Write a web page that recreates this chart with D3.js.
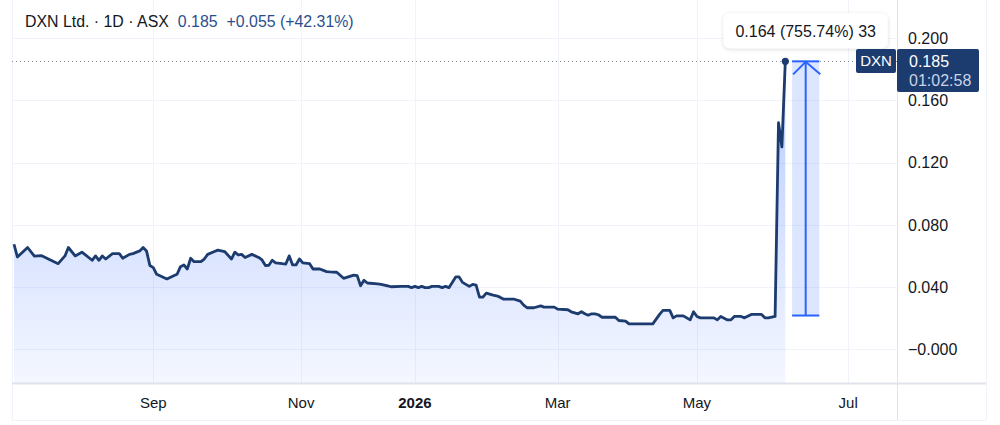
<!DOCTYPE html>
<html><head><meta charset="utf-8">
<script src="https://cdn.jsdelivr.net/npm/d3@7"></script>
<style>html,body{margin:0;padding:0;background:#fff;} svg{display:block;font-family:"Liberation Sans",Arial,sans-serif;}</style>
</head><body><svg id="c" width="1000" height="425"></svg>
<script>
// ---- data ----
const barIndex = [0,1,4,6,8,13,15,16,18,20,23,24,25,26,27,29,31,32,34,35,37,38,39,40,41,42,45,47,48,49,50,51,52,53,55,56,57,59,60,62,64,65,66,67,68,70,72,73,74,75,76,77,79,80,81,82,83,84,85,87,88,90,92,93,95,97,100,101,102,103,104,107,108,110,111,114,116,117,118,119,120,121,122,123,125,126,127,128,130,131,132,134,135,136,137,138,139,141,142,143,144,147,149,150,151,153,155,156,159,160,163,164,166,167,168,169,170,171,172,173,177,178,180,181,188,190,191,193,194,195,197,199,200,201,202,206,207,208,210,211,212,214,215,217,220,221,222,224,225,226,227];
const closeValues = [0.0675,0.0593,0.0654,0.0598,0.0602,0.0550,0.0600,0.0654,0.0600,0.0624,0.0572,0.0600,0.0572,0.0600,0.0580,0.0615,0.0615,0.0585,0.0610,0.0615,0.0632,0.0654,0.0632,0.0538,0.0525,0.0482,0.0452,0.0473,0.0482,0.0531,0.0542,0.0516,0.0585,0.0563,0.0563,0.0580,0.0610,0.0628,0.0637,0.0628,0.0580,0.0624,0.0606,0.0610,0.0590,0.0610,0.0590,0.0574,0.0538,0.0540,0.0572,0.0555,0.0550,0.0548,0.0600,0.0542,0.0542,0.0580,0.0555,0.0550,0.0516,0.0516,0.0499,0.0497,0.0495,0.0456,0.0477,0.0473,0.0408,0.0443,0.0426,0.0421,0.0417,0.0408,0.0402,0.0404,0.0404,0.0396,0.0404,0.0396,0.0404,0.0396,0.0396,0.0404,0.0404,0.0396,0.0404,0.0396,0.0465,0.0465,0.0430,0.0404,0.0417,0.0413,0.0335,0.0335,0.0361,0.0348,0.0344,0.0335,0.0323,0.0323,0.0310,0.0284,0.0267,0.0267,0.0279,0.0271,0.0271,0.0258,0.0254,0.0241,0.0228,0.0241,0.0228,0.0219,0.0228,0.0228,0.0222,0.0206,0.0206,0.0185,0.0181,0.0163,0.0163,0.0224,0.0250,0.0250,0.0202,0.0215,0.0215,0.0189,0.0241,0.0211,0.0202,0.0202,0.0189,0.0211,0.0189,0.0189,0.0211,0.0211,0.0202,0.0224,0.0224,0.0202,0.0202,0.0211,0.1456,0.1300,0.1850];
const yTicks = [0, 0.04, 0.08, 0.12, 0.16, 0.20];
const yTickLabels = ["\u22120.000","0.040","0.080","0.120","0.160","0.200"];
const xTickIndex = [41, 84.5, 118, 160, 201, 245.5];
const xTickLabels = ["Sep","Nov","2026","Mar","May","Jul"];
const symbol = "DXN";
const headerTitle = "DXN Ltd. \u00b7 1D \u00b7 ASX";
const lastPrice = 0.185, change = "+0.055", changePct = "(+42.31%)";
const countdown = "01:02:58";
const measureFrom = 0.0217, measureTo = 0.185, measureBars = [229, 237];
const measureLabel = "0.164 (755.74%) 33";

// ---- layout ----
const W = 1000, H = 425;
const plotL = 12, plotR = 897, plotT = 0, plotB = 383, axisB = 420, axisR = 986;
const svg = d3.select("#c");
const x = d3.scaleLinear().domain([0, 227]).range([14, 785.3]);
const y = d3.scaleLinear().domain([0, 0.2]).range([349.3, 38]);
const data = barIndex.map((b, i) => ({b, v: closeValues[i]}));
const ink = "#131722", grid = "#f0f3fa", border = "#e0e3eb", navy = "#1c3b6e", blue = "#2962ff";

const defs = svg.append("defs");
const g = defs.append("linearGradient").attr("id","fillG").attr("gradientUnits","userSpaceOnUse")
  .attr("x1",0).attr("x2",0).attr("y1",y(0.185)).attr("y2",plotB);
g.append("stop").attr("offset",0).attr("stop-color",blue).attr("stop-opacity",0.34);
g.append("stop").attr("offset",1).attr("stop-color",blue).attr("stop-opacity",0.05);
defs.append("clipPath").attr("id","clip").append("rect").attr("x",plotL).attr("y",plotT).attr("width",plotR-plotL).attr("height",plotB-plotT);
const f = defs.append("filter").attr("id","sh").attr("x","-20%").attr("y","-40%").attr("width","140%").attr("height","180%");
f.append("feDropShadow").attr("dx",0).attr("dy",1).attr("stdDeviation",2).attr("flood-color","#000").attr("flood-opacity",0.15);

svg.append("rect").attr("width",W).attr("height",H).attr("fill","#fff");

// grid
svg.append("g").selectAll("line").data(yTicks).join("line")
  .attr("x1",plotL).attr("x2",plotR).attr("y1",d=>Math.round(y(d))+0.5).attr("y2",d=>Math.round(y(d))+0.5)
  .attr("stroke",grid);
svg.append("g").selectAll("line").data(xTickIndex).join("line")
  .attr("x1",d=>Math.round(x(d))+0.5).attr("x2",d=>Math.round(x(d))+0.5).attr("y1",plotT).attr("y2",plotB)
  .attr("stroke",grid);

// borders
svg.append("line").attr("x1",plotL+0.5).attr("x2",plotL+0.5).attr("y1",0).attr("y2",axisB).attr("stroke",grid);
svg.append("line").attr("x1",plotL).attr("x2",axisR).attr("y1",plotB+0.5).attr("y2",plotB+0.5).attr("stroke",border).attr("stroke-width",2);
svg.append("line").attr("x1",plotL).attr("x2",axisR).attr("y1",axisB+0.5).attr("y2",axisB+0.5).attr("stroke",grid);
svg.append("line").attr("x1",plotR+0.5).attr("x2",plotR+0.5).attr("y1",0).attr("y2",axisB).attr("stroke",border);
svg.append("line").attr("x1",axisR+0.5).attr("x2",axisR+0.5).attr("y1",0).attr("y2",axisB).attr("stroke",grid);

const plot = svg.append("g").attr("clip-path","url(#clip)");
// area + line
plot.append("path").datum(data).attr("fill","url(#fillG)")
  .attr("d", d3.area().x(d=>x(d.b)).y0(plotB).y1(d=>y(d.v)));
// dotted last price line
plot.append("line").attr("x1",plotL).attr("x2",plotR).attr("y1",Math.round(y(lastPrice))+0.5).attr("y2",Math.round(y(lastPrice))+0.5)
  .attr("stroke","#8a8f9c").attr("stroke-dasharray","1,3");
plot.append("path").datum(data).attr("fill","none").attr("stroke",navy).attr("stroke-width",2.8)
  .attr("stroke-linejoin","round").attr("d", d3.line().x(d=>x(d.b)).y(d=>y(d.v)));
plot.append("circle").attr("cx",x(227)).attr("cy",y(lastPrice)).attr("r",3.6).attr("fill",navy);

// measure tool
const mx0 = x(measureBars[0]), mx1 = x(measureBars[1]), mxc = (mx0+mx1)/2;
const my0 = y(measureTo), my1 = y(measureFrom);
plot.append("rect").attr("x",mx0).attr("y",my0).attr("width",mx1-mx0).attr("height",my1-my0).attr("fill",blue).attr("fill-opacity",0.16);
const mg = plot.append("g").attr("stroke",blue).attr("stroke-width",2).attr("fill","none");
mg.append("line").attr("x1",mxc).attr("x2",mxc).attr("y1",my0).attr("y2",my1);
mg.append("line").attr("x1",mx0).attr("x2",mx1).attr("y1",my0).attr("y2",my0);
mg.append("line").attr("x1",mx0).attr("x2",mx1).attr("y1",my1).attr("y2",my1);
mg.append("path").attr("d",`M${mx0+1},${my0+13}L${mxc},${my0+0.5}L${mx1+1},${my0+13}`);

// tooltip
const tw = 164, th = 35;
svg.append("rect").attr("x",mxc-tw/2).attr("y",my0-th-13).attr("width",tw).attr("height",th).attr("rx",6)
  .attr("fill","#fff").attr("filter","url(#sh)");
svg.append("text").attr("x",mxc).attr("y",my0-13-th/2).attr("dy","0.36em").attr("text-anchor","middle")
  .attr("font-size",16).attr("fill",ink).text(measureLabel);

// y axis labels
svg.append("g").selectAll("text").data(yTicks).join("text")
  .attr("x",908).attr("y",d=>y(d)).attr("dy","0.36em").attr("font-size",16).attr("fill",ink)
  .text((d,i)=>yTickLabels[i]);

// x axis labels
svg.append("g").selectAll("text").data(xTickIndex).join("text")
  .attr("x",d=>x(d)).attr("y",408).attr("text-anchor","middle").attr("font-size",15).attr("fill",ink)
  .attr("font-weight",(d,i)=>xTickLabels[i]==="2026"?"bold":"normal")
  .text((d,i)=>xTickLabels[i]);

// symbol & price labels
const ly = Math.round(y(lastPrice));
svg.append("rect").attr("x",856).attr("y",ly-12).attr("width",40).attr("height",24).attr("rx",2).attr("fill",navy);
svg.append("text").attr("x",876).attr("y",ly).attr("dy","0.36em").attr("text-anchor","middle").attr("font-size",15).attr("fill","#fff").text(symbol);
svg.append("rect").attr("x",897).attr("y",ly-12).attr("width",82).attr("height",43).attr("rx",2).attr("fill",navy);
svg.append("text").attr("x",909).attr("y",ly).attr("dy","0.36em").attr("font-size",16).attr("fill","#fff").text(lastPrice.toFixed(3));
svg.append("text").attr("x",909).attr("y",ly+19).attr("dy","0.36em").attr("font-size",16).attr("fill","#c9d3e6").text(countdown);

// header: one line, fitted to the width it takes in the reference
const hd = svg.append("text").attr("x",25).attr("y",27).attr("fill",ink).attr("font-size",15);
hd.append("tspan").text(headerTitle);
hd.append("tspan").attr("dx",9).attr("fill","#2a4f8c").text(lastPrice.toFixed(3));
hd.append("tspan").attr("dx",9).attr("fill","#2a4f8c").text(change + " " + changePct);
const hw = hd.node().getComputedTextLength();
if (hw > 0) hd.attr("font-size", Math.min(17, 15 * 311 / hw));
</script></body></html>
